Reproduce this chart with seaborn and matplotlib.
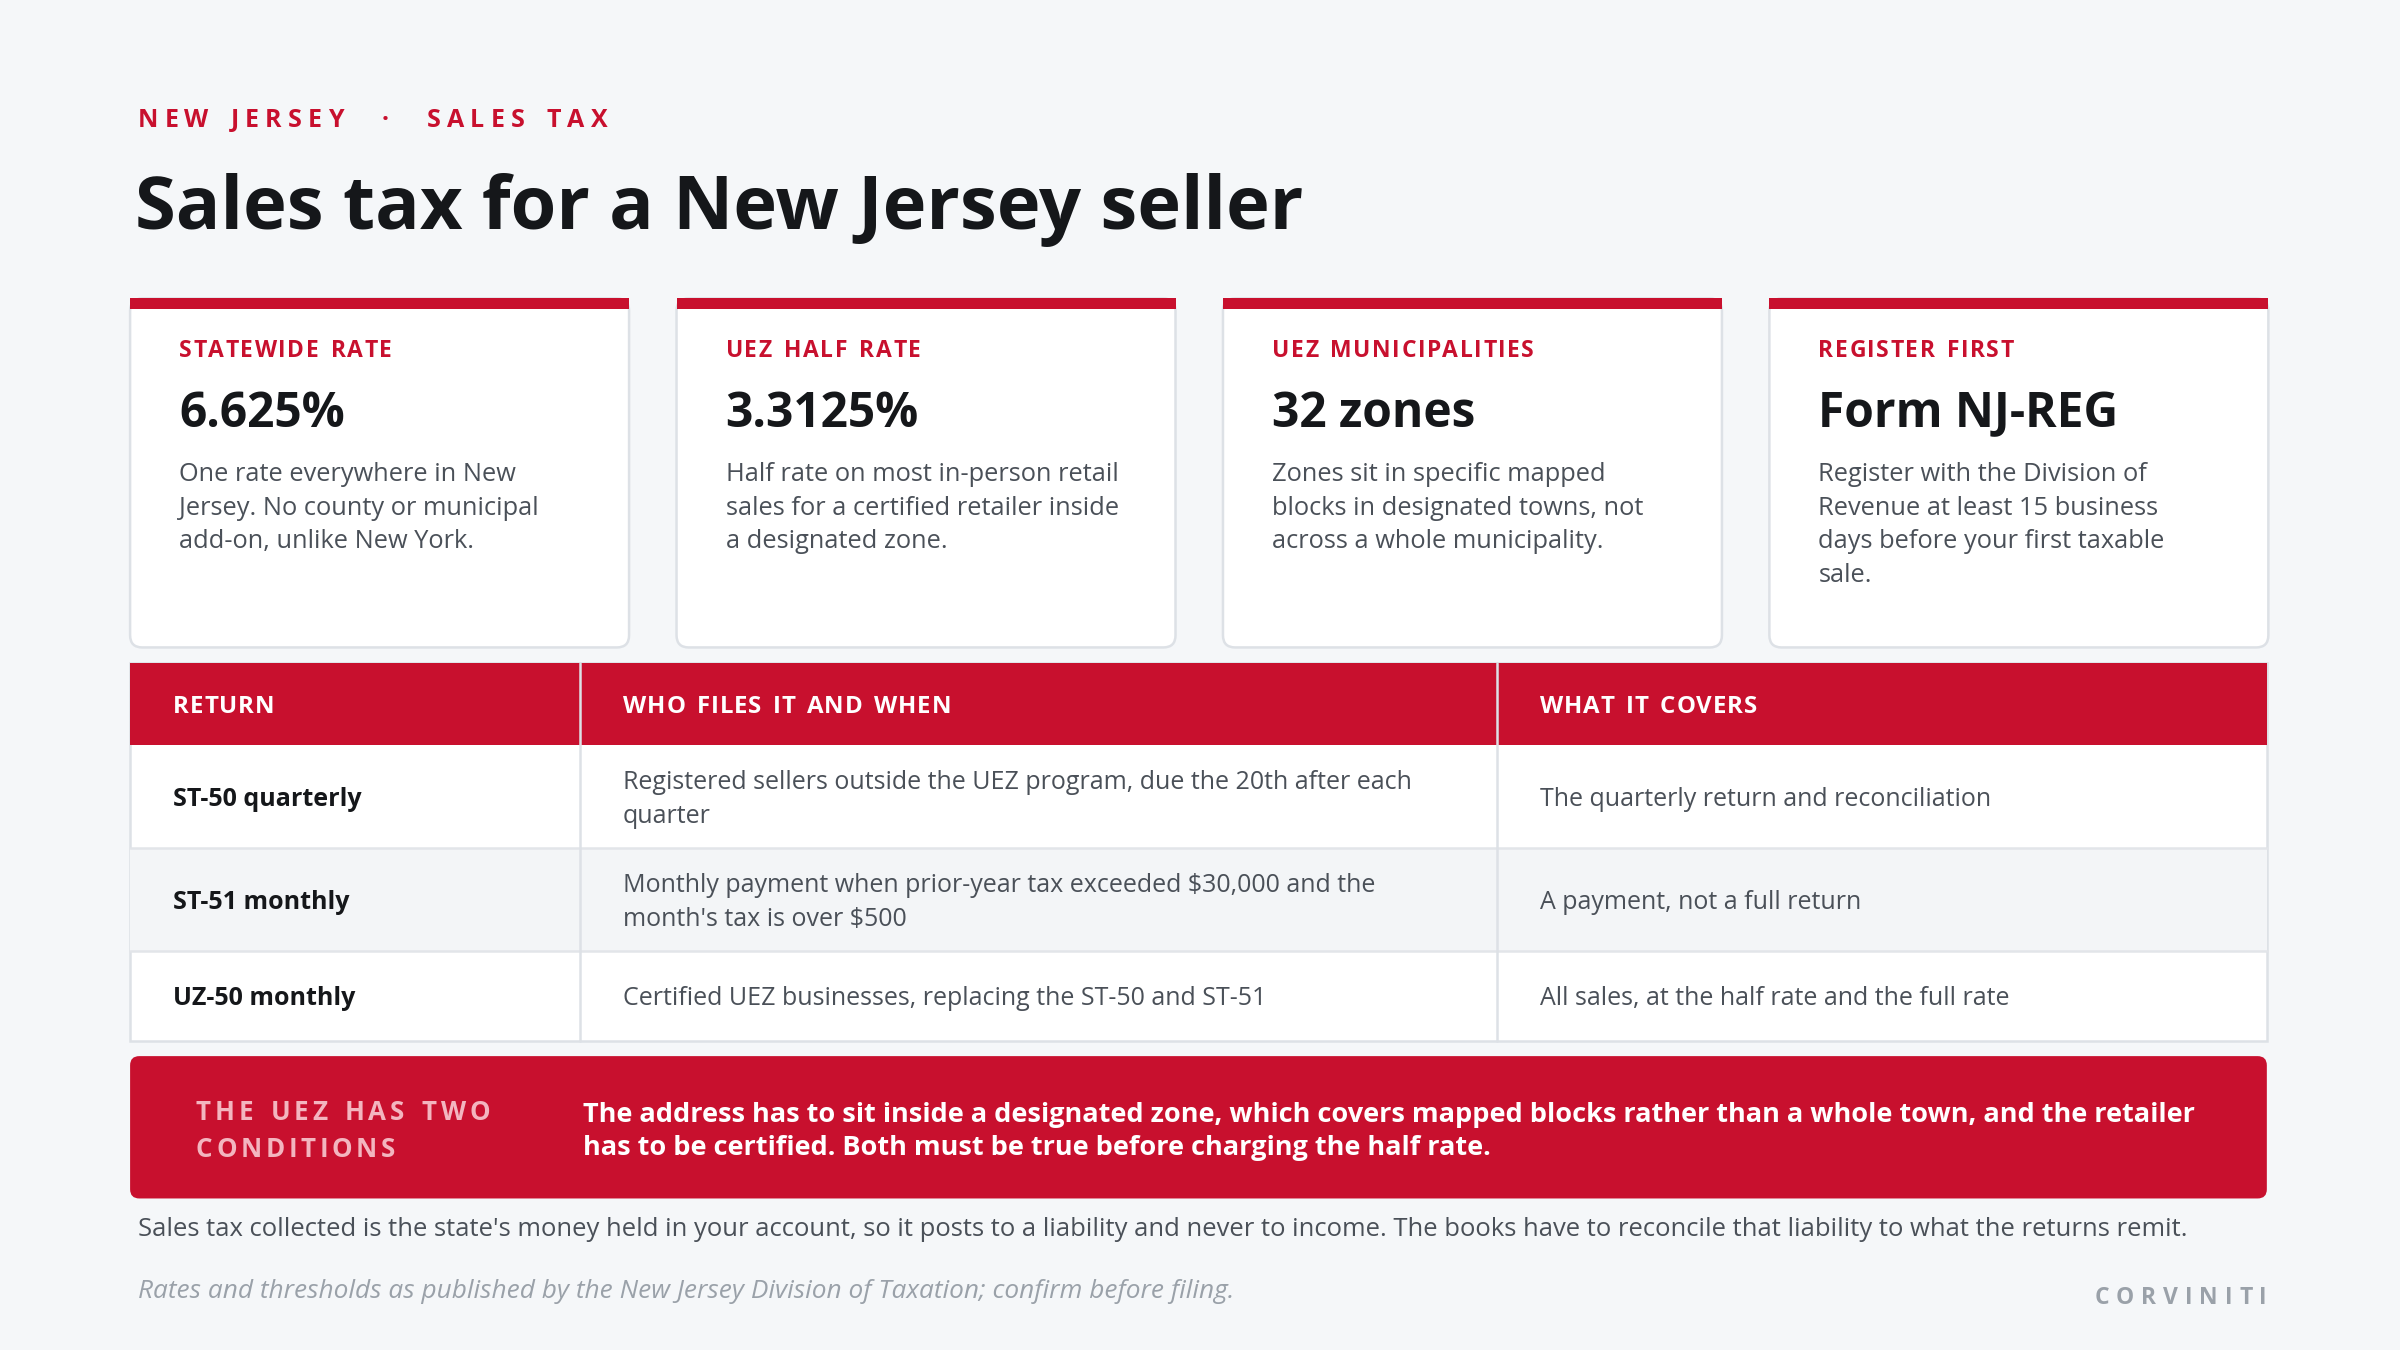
import matplotlib
matplotlib.use("Agg")
import matplotlib.pyplot as plt
import seaborn as sns
from matplotlib.patches import Rectangle, FancyBboxPatch

sns.set_theme(style="white")
plt.rcParams['font.family'] = ['Open Sans', 'DejaVu Sans']

RED = "#C8102E"
BG = "#F5F7F9"
DARK = "#15171A"
GREY = "#4A5058"

kicker = "NEW JERSEY  ·  SALES TAX"
title = "Sales tax for a New Jersey seller"
card_labels = ["STATEWIDE RATE", "UEZ HALF RATE", "UEZ MUNICIPALITIES", "REGISTER FIRST"]
card_values = ["6.625%", "3.3125%", "32 zones", "Form NJ-REG"]
card_bodies = [
    "One rate everywhere in New\nJersey. No county or municipal\nadd-on, unlike New York.",
    "Half rate on most in-person retail\nsales for a certified retailer inside\na designated zone.",
    "Zones sit in specific mapped\nblocks in designated towns, not\nacross a whole municipality.",
    "Register with the Division of\nRevenue at least 15 business\ndays before your first taxable\nsale.",
]
table_headers = ["RETURN", "WHO FILES IT AND WHEN", "WHAT IT COVERS"]
returns = ["ST-50 quarterly", "ST-51 monthly", "UZ-50 monthly"]
who_when = [
    "Registered sellers outside the UEZ program, due the 20th after each\nquarter",
    "Monthly payment when prior-year tax exceeded $30,000 and the\nmonth's tax is over $500",
    "Certified UEZ businesses, replacing the ST-50 and ST-51",
]
covers = [
    "The quarterly return and reconciliation",
    "A payment, not a full return",
    "All sales, at the half rate and the full rate",
]
banner_label = ["THE UEZ HAS TWO", "CONDITIONS"]
banner_text = ("The address has to sit inside a designated zone, which covers mapped blocks rather than a whole town, and the retailer\n"
               "has to be certified. Both must be true before charging the half rate.")
footnote = ("Sales tax collected is the state's money held in your account, so it posts to a liability and never to income. "
            "The books have to reconcile that liability to what the returns remit.")
source = "Rates and thresholds as published by the New Jersey Division of Taxation; confirm before filing."
brand = "CORVINITI"

fig = plt.figure(figsize=(16, 9), dpi=150, facecolor=BG)
ax = fig.add_axes([0, 0, 1, 1])
ax.set_xlim(0, 1568)
ax.set_ylim(882, 0)
ax.axis("off")
ax.set_facecolor(BG)
fig.canvas.draw()
renderer = fig.canvas.get_renderer()


def spaced(x, y, s, spacing, ha="left", **kw):
    inv = ax.transData.inverted()
    widths = []
    for ch in s:
        t = ax.text(0, 0, ch if ch != " " else "n", **kw)
        bb = t.get_window_extent(renderer)
        widths.append((inv.transform((bb.x1, 0))[0] - inv.transform((bb.x0, 0))[0]) * (0.6 if ch == " " else 1))
        t.remove()
    total = sum(widths) + spacing * (len(s) - 1)
    cx = x - total if ha == "right" else x
    for ch, w in zip(s, widths):
        if ch != " ":
            ax.text(cx, y, ch, ha="left", va="center", **kw)
        cx += w + spacing


spaced(90, 79, kicker, 4.0, fontsize=12, fontweight="bold", color=RED)
ax.text(88, 137, title, fontsize=35.5, fontweight="bold", color=DARK, va="center")

card_x = [85, 442, 799, 1156]
cw = 326
for i, x0 in enumerate(card_x):
    ax.add_patch(FancyBboxPatch((x0, 195), cw, 228, boxstyle="round,pad=0,rounding_size=8",
                                fc="white", ec="#DDE1E6", lw=1.2))
    ax.add_patch(Rectangle((x0, 195), cw, 7, fc=RED, ec="none"))
    spaced(x0 + 32, 229, card_labels[i], 1.0, fontsize=11, fontweight="bold", color=RED)
    ax.text(x0 + 32, 271, card_values[i], fontsize=23, fontweight="bold", color=DARK, va="center")
    ax.text(x0 + 32, 302, card_bodies[i], fontsize=12.2, color=GREY, va="top", linespacing=1.45)

# table
tx0, tx1 = 85, 1481
cols = [85, 379, 978, 1481]
ax.add_patch(Rectangle((tx0, 433), tx1 - tx0, 247, fc="white", ec="#DDE1E6", lw=1.2))
ax.add_patch(Rectangle((tx0, 433), tx1 - tx0, 54, fc=RED, ec="none"))
row_y = [487, 554, 621, 680]
ax.add_patch(Rectangle((tx0, 554), tx1 - tx0, 67, fc="#F3F5F7", ec="none"))
for y in row_y[1:-1]:
    ax.plot([tx0, tx1], [y, y], color="#E2E5E9", lw=1.2)
for c in cols[1:-1]:
    ax.plot([c, c], [433, 680], color="#DDE1E6", lw=1.2)
for j, h in enumerate(table_headers):
    spaced(cols[j] + 28, 462, h, 0.6, fontsize=11.5, fontweight="bold", color="white")
for r in range(3):
    yc = (row_y[r] + row_y[r + 1]) / 2 + 2
    ax.text(cols[0] + 28, yc, returns[r], fontsize=12, fontweight="bold", color=DARK, va="center")
    ax.text(cols[1] + 28, yc, who_when[r], fontsize=12, color=GREY, va="center", linespacing=1.45)
    ax.text(cols[2] + 28, yc, covers[r], fontsize=12, color=GREY, va="center")

# banner
ax.add_patch(FancyBboxPatch((85, 690), 1396, 93, boxstyle="round,pad=0,rounding_size=6", fc=RED, ec="none"))
spaced(128, 727, banner_label[0], 2.4, fontsize=12.5, fontweight="bold", color="#F3B5BF")
spaced(128, 751, banner_label[1], 2.4, fontsize=12.5, fontweight="bold", color="#F3B5BF")
ax.text(381, 739, banner_text, fontsize=13, fontweight="bold", color="white", va="center", linespacing=1.35)

ax.text(90, 803, footnote, fontsize=12.3, color=GREY, va="center")
ax.text(90, 844, source, fontsize=12.6, color="#9AA1A9", style="italic", va="center")
spaced(1481, 848, brand, 4.5, ha="right", fontsize=11, fontweight="bold", color="#9AA1A9")

fig.savefig("out.png", dpi=150, facecolor=BG)
